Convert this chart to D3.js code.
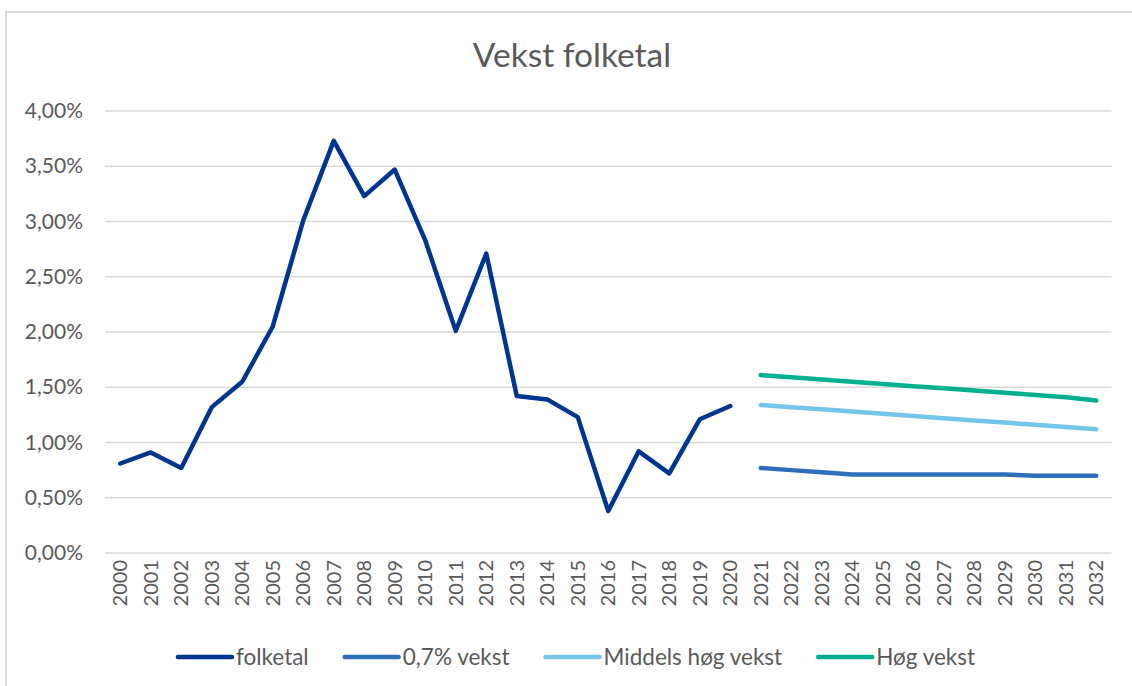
<!DOCTYPE html>
<html>
<head>
<meta charset="utf-8">
<script src="https://cdn.jsdelivr.net/npm/d3@7"></script>
<style>
  body { margin: 0; background: #fff; }
  svg { display: block; font-family: Lato, "Liberation Sans", sans-serif; }
</style>
</head>
<body>
<svg id="chart" width="1132" height="686"></svg>
<script>
var years = ['2000','2001','2002','2003','2004','2005','2006','2007','2008','2009','2010',
  '2011','2012','2013','2014','2015','2016','2017','2018','2019','2020','2021','2022',
  '2023','2024','2025','2026','2027','2028','2029','2030','2031','2032'];

// historical growth 2000-2020, then projections 2021-2032
var folketal = [0.0081, 0.0091, 0.0077, 0.0132, 0.0155, 0.0205, 0.0301, 0.0373, 0.0323, 0.0347,
  0.0283, 0.0201, 0.0271, 0.0142, 0.0139, 0.0123, 0.0038, 0.0092, 0.0072, 0.0121, 0.0133];
var vekst07 = [0.0077, 0.0075, 0.0073, 0.0071, 0.0071, 0.0071, 0.0071, 0.0071, 0.0071, 0.0070, 0.0070, 0.0070];
var middels = [0.0134, 0.0132, 0.0130, 0.0128, 0.0126, 0.0124, 0.0122, 0.0120, 0.0118, 0.0116, 0.0114, 0.0112];
var hog = [0.0161, 0.0159, 0.0157, 0.0155, 0.0153, 0.0151, 0.0149, 0.0147, 0.0145, 0.0143, 0.0141, 0.0138];

var yTicks = [0, 0.005, 0.01, 0.015, 0.02, 0.025, 0.03, 0.035, 0.04];

var seriesNames = ['folketal', '0,7% vekst', 'Middels høg vekst', 'Høg vekst'];
var colors = ['#00358f', '#2e6ebd', '#74c6e8', '#00b08e'];

var svg = d3.select('#chart');
var textColor = '#595959';

// chart border
svg.append('rect')
  .attr('x', 6).attr('y', 12)
  .attr('width', 1140).attr('height', 700)
  .attr('fill', 'none')
  .attr('stroke', '#d9d9d9')
  .attr('stroke-width', 2);

svg.append('text')
  .attr('x', 572).attr('y', 67)
  .attr('text-anchor', 'middle')
  .attr('font-size', 33.5)
  .attr('fill', textColor)
  .text('Vekst folketal');

var x = d3.scaleBand().domain(years).range([105, 1111.5]).padding(0);
var y = d3.scaleLinear().domain([0, 0.04]).range([553, 111]);
var cx = function (yr) { return x(yr) + x.bandwidth() / 2; };

var nb = d3.formatLocale({ decimal: ',', thousands: ' ', grouping: [3], currency: ['', ' kr'] });
var pct = nb.format('.2%');

// gridlines
svg.append('g')
  .selectAll('line')
  .data(yTicks)
  .join('line')
  .attr('x1', 105).attr('x2', 1111.5)
  .attr('y1', function (d) { return y(d); })
  .attr('y2', function (d) { return y(d); })
  .attr('stroke', '#d9d9d9')
  .attr('stroke-width', 1.3);

// y axis
var yAxis = svg.append('g')
  .attr('transform', 'translate(83,0)')
  .call(d3.axisLeft(y).tickValues(yTicks).tickFormat(pct).tickSize(0).tickPadding(0));
yAxis.select('.domain').remove();
yAxis.selectAll('text')
  .attr('font-family', 'Lato, "Liberation Sans", sans-serif')
  .attr('font-size', 21)
  .attr('fill', textColor);

// x axis, rotated labels
var xAxis = svg.append('g')
  .attr('transform', 'translate(0,560)')
  .call(d3.axisBottom(x).tickSize(0).tickPadding(0));
xAxis.select('.domain').remove();
xAxis.selectAll('text')
  .attr('font-family', 'Lato, "Liberation Sans", sans-serif')
  .attr('font-size', 20)
  .attr('fill', textColor)
  .attr('text-anchor', 'end')
  .attr('transform', 'rotate(-90)')
  .attr('x', 0)
  .attr('y', 0)
  .attr('dy', '0.35em');

// series
var histYears = years.slice(0, folketal.length);
var projYears = years.slice(folketal.length);
var seriesData = [
  histYears.map(function (yr, i) { return { year: yr, v: folketal[i] }; }),
  projYears.map(function (yr, i) { return { year: yr, v: vekst07[i] }; }),
  projYears.map(function (yr, i) { return { year: yr, v: middels[i] }; }),
  projYears.map(function (yr, i) { return { year: yr, v: hog[i] }; })
];

var line = d3.line()
  .x(function (d) { return cx(d.year); })
  .y(function (d) { return y(d.v); });

svg.append('g')
  .selectAll('path')
  .data(seriesData)
  .join('path')
  .attr('d', line)
  .attr('fill', 'none')
  .attr('stroke', function (d, i) { return colors[i]; })
  .attr('stroke-width', 4.5)
  .attr('stroke-linecap', 'round')
  .attr('stroke-linejoin', 'round');

// legend
var legend = svg.append('g');
var lx = 0;
var items = legend.selectAll('g')
  .data(seriesNames)
  .join('g');
items.each(function (name, i) {
  var g = d3.select(this);
  g.append('line')
    .attr('x1', 0).attr('x2', 54)
    .attr('y1', 0).attr('y2', 0)
    .attr('stroke', colors[i])
    .attr('stroke-width', 4.5)
    .attr('stroke-linecap', 'round');
  var t = g.append('text')
    .attr('x', 58).attr('y', 0)
    .attr('dy', '0.35em')
    .attr('font-size', 22.5)
    .attr('fill', textColor)
    .text(name);
  g.attr('transform', 'translate(' + lx + ',0)');
  lx += 58 + t.node().getComputedTextLength() + 36;
});
var totalW = lx - 36;
legend.attr('transform', 'translate(' + (576.5 - totalW / 2) + ',657)');
</script>
</body>
</html>
